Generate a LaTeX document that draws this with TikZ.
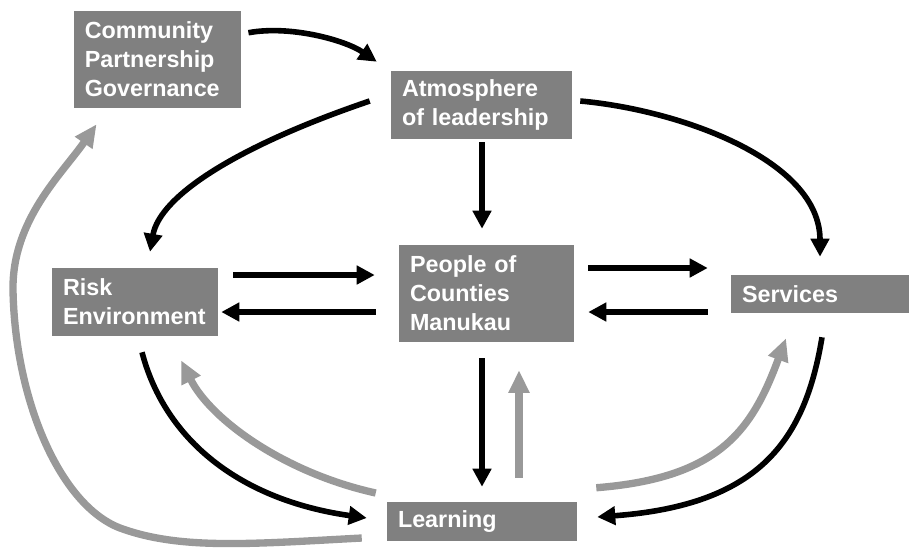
\documentclass[tikz,border=0pt]{standalone}
\usepackage{fontspec}
\setmainfont{Liberation Sans}
\usetikzlibrary{arrows.meta,calc}
\definecolor{boxgray}{HTML}{808080}
\definecolor{arrowgray}{HTML}{999999}

\begin{document}
\begin{tikzpicture}[x=0.75pt,y=-0.75pt]

\tikzstyle{box} = [fill=boxgray, text=white, align=left, inner xsep=8.25pt, inner ysep=0pt,
  font=\bfseries\fontsize{17.5}{21.75}\selectfont]
\tikzstyle{blackarrow} = [line width=4.2pt, -{Triangle[length=13.5pt,width=13.5pt]}]
\tikzstyle{greyarrow} = [arrowgray, line width=5.5pt, -{Triangle[length=17pt,width=15pt]}]

\useasboundingbox (0,0) rectangle (909,547);

% boxes
\node[box, at={(157.5,59.5)}, text width=109pt, minimum height=72.75pt] (cpg) {Community\\Partnership\\Governance};
\node[box, at={(481.5,105)}, text width=119.25pt, minimum height=51pt] (atm) {Atmosphere\\of leadership};
\node[box, at={(135,302)}, text width=108pt, minimum height=51pt] (risk) {Risk\\Environment};
\node[box, at={(486.5,293.5)}, text width=114.75pt, minimum height=72.75pt] (people) {People of\\Counties\\Manukau};
\node[box, at={(820,294)}, text width=117pt, minimum height=28.5pt] (serv) {Services};
\node[box, at={(482,521.5)}, text width=126pt, minimum height=29.25pt] (learn) {Learning};

% black arrows
\draw[blackarrow] ($(cpg.north east)+(7,22)$) .. controls (290,25) and (345,40) .. ($(atm.north west)+(-14,-9)$);
\draw[blackarrow] ($(atm.west)+(-21,-4)$) .. controls (240,145) and (160,195) .. ($(risk.north)+(15,-16)$);
\draw[blackarrow] ($(atm.east)+(8,-4)$) .. controls (680,110) and (820,160) .. ($(serv.north)+(0,-18)$);
\draw[blackarrow] ($(atm.south)+(0.5,3)$) -- ($(people.north)+(-4.5,-16)$);

\draw[blackarrow] ($(risk.east)+(15,-27)$) -- ($(people.west)+(-24,-18.5)$);
\draw[blackarrow] ($(people.west)+(-23,18.5)$) -- ($(risk.east)+(3,10)$);
\draw[blackarrow] ($(people.east)+(14,-25.5)$) -- ($(serv.west)+(-23,-26)$);
\draw[blackarrow] ($(serv.west)+(-23,18)$) -- ($(people.east)+(14,18.5)$);

\draw[blackarrow] ($(people.south)+(-4.5,16)$) -- ($(learn.north)+(0,-15)$);
\draw[blackarrow] ($(risk.south)+(7,16)$) .. controls (165,440) and (240,500) .. ($(learn.west)+(-20,-3.5)$);
\draw[blackarrow] ($(serv.south)+(2,24)$) .. controls (805,440) and (760,505) .. ($(learn.east)+(20,-4.5)$);

% grey arrows
\draw[greyarrow] ($(learn.north)+(37,-24)$) -- ($(people.south)+(32.5,28)$);
\draw[greyarrow] ($(learn.west)+(-11,-28.5)$) .. controls (285,473) and (211,420) .. ($(risk.south)+(46,24)$);
\draw[greyarrow] ($(learn.north east)+(19,-14)$) .. controls (720,478) and (752,430) .. ($(serv.south)+(-34,25)$);
\draw[greyarrow] ($(learn.west)+(-25,16.5)$) .. controls (250,544) and (180,550) .. (120,528)
  .. controls (60,505) and (15,400) .. (13,290)
  .. controls (12,220) and (62,174) .. ($(cpg.south west)+(23,16)$);

\end{tikzpicture}
\end{document}
